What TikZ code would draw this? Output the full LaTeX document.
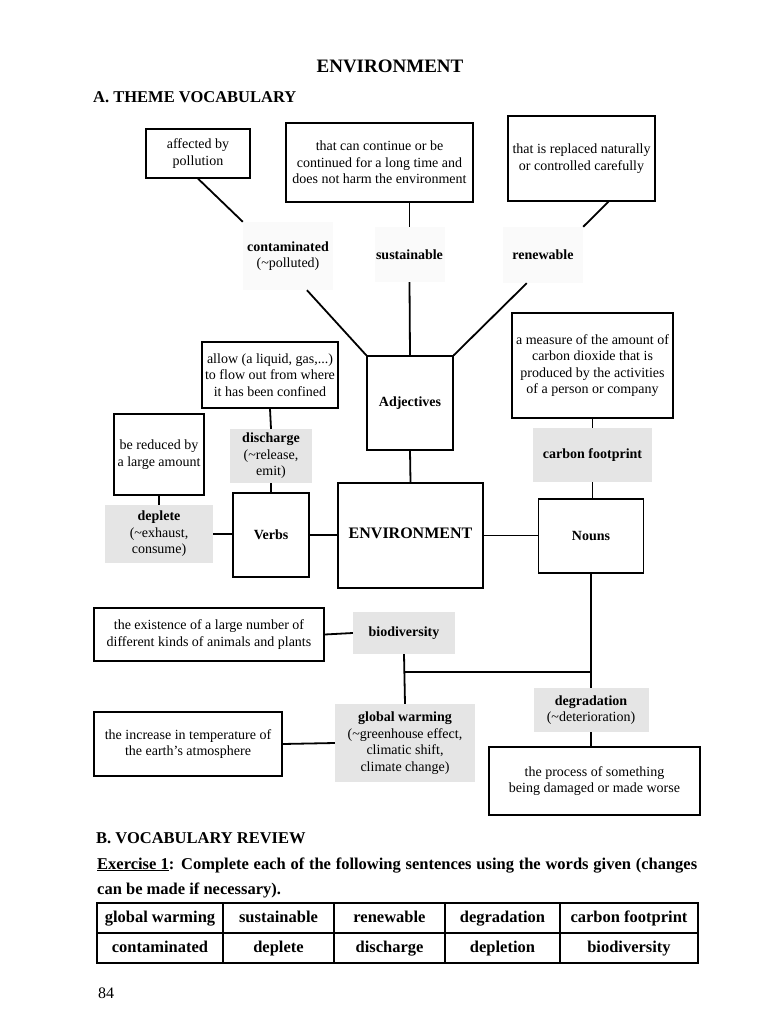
\documentclass[tikz,border=0pt]{standalone}
\usepackage{fontspec}
\setmainfont{Liberation Serif}
\usetikzlibrary{calc}

\tikzset{
	defbox/.style={draw, line width=1.3pt, align=center, inner sep=0pt,
		font=\fontsize{14}{16.5}\selectfont},
	word/.style={fill=black!10, align=center, inner sep=0pt,
		font=\fontsize{14}{16.5}\selectfont},
	faintword/.style={word, fill=black!2},
	catbox/.style={draw, line width=1.3pt, inner sep=0pt,
		font=\bfseries\fontsize{14}{16.5}\selectfont},
	link/.style={line width=1.8pt},
	cell/.style={draw, line width=1.1pt, inner sep=0pt, minimum height=30,
		text height=11.5pt, text depth=3.5pt,
		font=\bfseries\fontsize{16.5}{20}\selectfont},
	head/.style={anchor=base west, inner sep=0pt,
		font=\bfseries\fontsize{16.5}{20}\selectfont}
}

\begin{document}
\begin{tikzpicture}[x=1pt,y=-1pt]
			\useasboundingbox (0,0) rectangle (768,1024);
			\node[anchor=base, inner sep=0pt, font=\bfseries\fontsize{19}{22}\selectfont] (title) at (390,73) {ENVIRONMENT};
			\node[head] (parta) at (93,103) {A. THEME VOCABULARY};
			% adjectives
			\node[defbox, minimum width=104, minimum height=49] (pollut) at (198,153.5) {affected by\\pollution};
			\node[defbox, minimum width=187, minimum height=79] (sustdef) at (379.5,162.5) {that can continue or be\\continued for a long time and\\does not harm the environment};
			\node[defbox, minimum width=147, minimum height=85] (renewdef) at (581.5,158.5) {that is replaced naturally\\or controlled carefully};
			\node[faintword, minimum width=90, minimum height=68] (contam) at (288,256) {\textbf{contaminated}\\(\textasciitilde polluted)};
			\node[faintword, minimum width=70, minimum height=55] (sust) at (409.5,254.5) {\textbf{sustainable}};
			\node[faintword, minimum width=80, minimum height=56] (renew) at (543,255) {\textbf{renewable}};
			\node[catbox, minimum width=86, minimum height=94] (adj) at (410,403) {Adjectives};
			% centre
			\node[catbox, minimum width=145, minimum height=105, font=\bfseries\fontsize{16}{19}\selectfont] (env) at (410.5,535.5) {\raisebox{5pt}{ENVIRONMENT}};
			\node[catbox, minimum width=76, minimum height=84] (verbs) at (271,535) {Verbs};
			\node[catbox, minimum width=105, minimum height=74] (nouns) at (591,536) {Nouns};
			% verbs
			\node[defbox, minimum width=136, minimum height=66] (dischdef) at (270,375) {allow (a liquid, gas,...)\\to flow out from where\\it has been confined};
			\node[word, minimum width=82, minimum height=54] (disch) at (271,456) {\textbf{discharge}\\(\textasciitilde release,\\emit)};
			\node[defbox, minimum width=90, minimum height=81] (depldef) at (159,454.5) {be reduced by\\a large amount};
			\node[word, minimum width=108, minimum height=58] (depl) at (159,534) {\textbf{deplete}\\(\textasciitilde exhaust,\\consume)};
			% nouns
			\node[defbox, minimum width=161, minimum height=105] (carbdef) at (592.5,365.5) {a measure of the amount of\\carbon dioxide that is\\produced by the activities\\of a person or company};
			\node[word, minimum width=119, minimum height=54] (carb) at (592.5,455) {\textbf{carbon footprint}};
			\node[defbox, minimum width=230, minimum height=53] (biodef) at (209,634.5) {the existence of a large number of\\different kinds of animals and plants};
			\node[word, minimum width=102, minimum height=42] (bio) at (404,633) {\textbf{biodiversity}};
			\node[word, minimum width=140, minimum height=78] (glob) at (405,743) {\textbf{global warming}\\(\textasciitilde greenhouse effect,\\climatic shift,\\climate change)};
			\node[defbox, minimum width=188, minimum height=64] (globdef) at (188,744) {the increase in temperature of\\the earth's atmosphere};
			\node[word, minimum width=115, minimum height=44] (degr) at (591,710) {\textbf{degradation}\\(\textasciitilde deterioration)};
			\node[defbox, minimum width=211, minimum height=68] (degrdef) at (594.5,781) {the process of something\\being damaged or made worse};
			\coordinate (fork) at (404,672);
			% connectors
			\draw[link] (pollut.south) -- (contam.north west);
			\draw[link] (sust.north) -- (sust.north |- sustdef.south);
			\draw[link] (renewdef.-58) -- (renew.north east);
			\draw[link] (contam.-61) -- (adj.north west);
			\draw[link] (sust.south) -- (adj.north);
			\draw[link] (renew.-120) -- (adj.north east);
			\draw[link] (adj.south) -- (env.north);
			\draw[link] (dischdef.south) -- (disch.north);
			\draw[link] (disch.south) -- (verbs.north);
			\draw[link] (depldef.south) -- (depl.north);
			\draw[link] (depl.east) -- (depl.east -| verbs.west);
			\draw[link] (verbs.east) -- (verbs.east -| env.west);
			\draw[link] (env.east) -- (env.east -| nouns.west);
			\draw[link] (carbdef.south) -- (carb.north);
			\draw[link] (carb.south) -- (carb.south |- nouns.north);
			\draw[link] (nouns.south) -- (degr.north);
			\draw[link] (biodef.east) -- (bio.west);
			\draw[link] (bio.south) -- (glob.north);
			\draw[link] (fork) -- (fork -| degr.north);
			\draw[link] (globdef.east) -- (glob.west);
			\draw[link] (degr.south) -- (degr.south |- degrdef.north);
			% review
			\node[head] (partb) at (96,843) {B. VOCABULARY REVIEW};
			\node[head] (task) at (97,869) {\makebox[600pt][s]{\underline{Exercise 1}: Complete each of the following sentences using the words given (changes}};
			\node[head] (task2) at (97,894) {can be made if necessary).};
			\node[cell, minimum width=126] (c11) at (160,918) {global warming};
			\node[cell, minimum width=111] (c12) at (278.5,918) {sustainable};
			\node[cell, minimum width=111] (c13) at (389.5,918) {renewable};
			\node[cell, minimum width=115] (c14) at (502.5,918) {degradation};
			\node[cell, minimum width=138] (c15) at (629,918) {carbon footprint};
			\node[cell, minimum width=126] (c21) at (160,948) {contaminated};
			\node[cell, minimum width=111] (c22) at (278.5,948) {deplete};
			\node[cell, minimum width=111] (c23) at (389.5,948) {discharge};
			\node[cell, minimum width=115] (c24) at (502.5,948) {depletion};
			\node[cell, minimum width=138] (c25) at (629,948) {biodiversity};
			\node[anchor=base west, inner sep=0pt, font=\fontsize{16}{19}\selectfont] (page) at (98,998) {84};
\end{tikzpicture}
\end{document}
